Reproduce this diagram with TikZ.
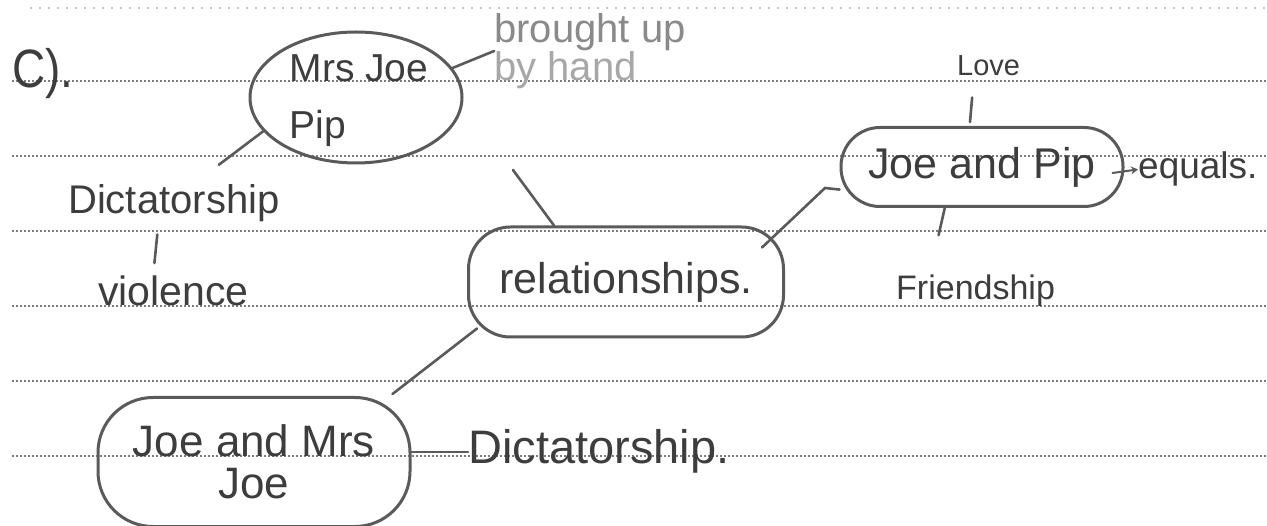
\documentclass[tikz,border=0pt]{standalone}
\usepackage{fontspec}
\setmainfont{Liberation Sans}
\usetikzlibrary{shapes.geometric,arrows.meta}
\definecolor{ink}{HTML}{3D3D3D}
\definecolor{pen}{HTML}{5A5A5A}
\definecolor{pencil}{HTML}{8A8A8A}
\definecolor{ruleink}{HTML}{7C7C7C}
\begin{document}
\begin{tikzpicture}[x=1pt,y=-1pt,
  hand/.style={text=ink, inner sep=0pt, font=\fontsize{40}{48}\selectfont},
  blob/.style={draw=pen, line width=3pt},
  link/.style={draw=pen, line width=2.6pt, line cap=round},
  ruled/.style={draw=ruleink, line width=1.4pt, dash pattern=on 2pt off 2pt}]
\fill[white] (0,0) rectangle (1267,526);
\useasboundingbox (0,0) rectangle (1267,526);
% ruled paper
\foreach \yy in {81,156,231,306,381,456} \draw[ruled] (12,\yy) -- (1267,\yy);
\draw[ruled, draw=ruleink!45, dash pattern=on 2pt off 7pt] (30,8) -- (1267,8);

% heading
\node[hand, anchor=base west, font=\fontsize{54}{58}\selectfont, xscale=0.85] (c) at (12,88) {C).};

% Mrs Joe / Pip
\node[blob, ellipse, minimum width=212pt, minimum height=131pt, inner sep=0pt] (mjp) at (356,97.5) {};
\node[hand, align=left, font=\fontsize{39}{57}\selectfont] (mjpt) at (359,100.5) {Mrs Joe\\Pip};

% brought up by hand
\node[hand, align=left, text=pencil, font=\fontsize{40}{38}\selectfont] (bh) at (590,51) {brought up\\\textcolor{pencil!75}{by hand}};

% Dictatorship / violence
\node[hand, anchor=base west] (dict1) at (68,214) {Dictatorship};
\node[hand, anchor=base west, font=\fontsize{41}{48}\selectfont] (viol) at (98,306) {violence};

% relationships
\node[blob, hand, rounded corners=42pt, minimum width=315pt, minimum height=110pt, font=\fontsize{43}{50}\selectfont] (rel) at (626,282) {relationships.};

% Joe and Pip
\node[blob, hand, rounded corners=39pt, minimum width=282pt, minimum height=79pt, font=\fontsize{43}{50}\selectfont] (jp) at (982,167) {Joe and Pip};
\node[hand, anchor=base west, font=\fontsize{29}{34}\selectfont] (love) at (957,76) {Love};
\node[hand, anchor=base west, font=\fontsize{37}{44}\selectfont] (eq) at (1138,179) {equals.};
\node[hand, anchor=base west, font=\fontsize{34}{40}\selectfont] (fr) at (896,300) {Friendship};

% Joe and Mrs Joe
\node[blob, hand, rounded corners=55pt, minimum width=312pt, minimum height=129pt, align=center, font=\fontsize{44}{42}\selectfont] (jmj) at (254,462) {Joe and Mrs\\Joe};
\node[hand, anchor=base west, font=\fontsize{47}{52}\selectfont] (dict2) at (468,464) {Dictatorship.};

% connectors
\coordinate (c1) at (513,170);
\coordinate (k1) at (825,188);
\draw[link] (mjp.17) -- (bh.west);
\draw[link] (mjp.200) -- ([xshift=45pt,yshift=20pt]dict1.north);
\draw[link] ([xshift=-16.5pt,yshift=-12pt]dict1.south) -- ([xshift=-19pt,yshift=13pt]viol.north);
\draw[link] (c1) -- ([xshift=-72pt]rel.north);
\draw[link] ([xshift=-23pt,yshift=-22pt]rel.north east) -- (k1) -- (jp.189);
\draw[link] ([xshift=10pt,yshift=10pt]rel.south west) -- ([xshift=-19pt,yshift=2pt]jmj.north east);
\draw[link] (jmj.east |- dict2.west) -- (dict2.west);
\draw[link] ([xshift=-16.5pt,yshift=-21pt]love.south) -- ([xshift=-12pt,yshift=4pt]jp.north);
\draw[link] ([xshift=-37pt,yshift=1pt]jp.south) -- ([xshift=-37pt,yshift=40pt]fr.north);
\draw[link, line width=2pt, -{Stealth[length=7pt,width=8pt]}] ([xshift=-12pt,yshift=-6pt]jp.east) -- (eq.west);
\end{tikzpicture}
\end{document}
